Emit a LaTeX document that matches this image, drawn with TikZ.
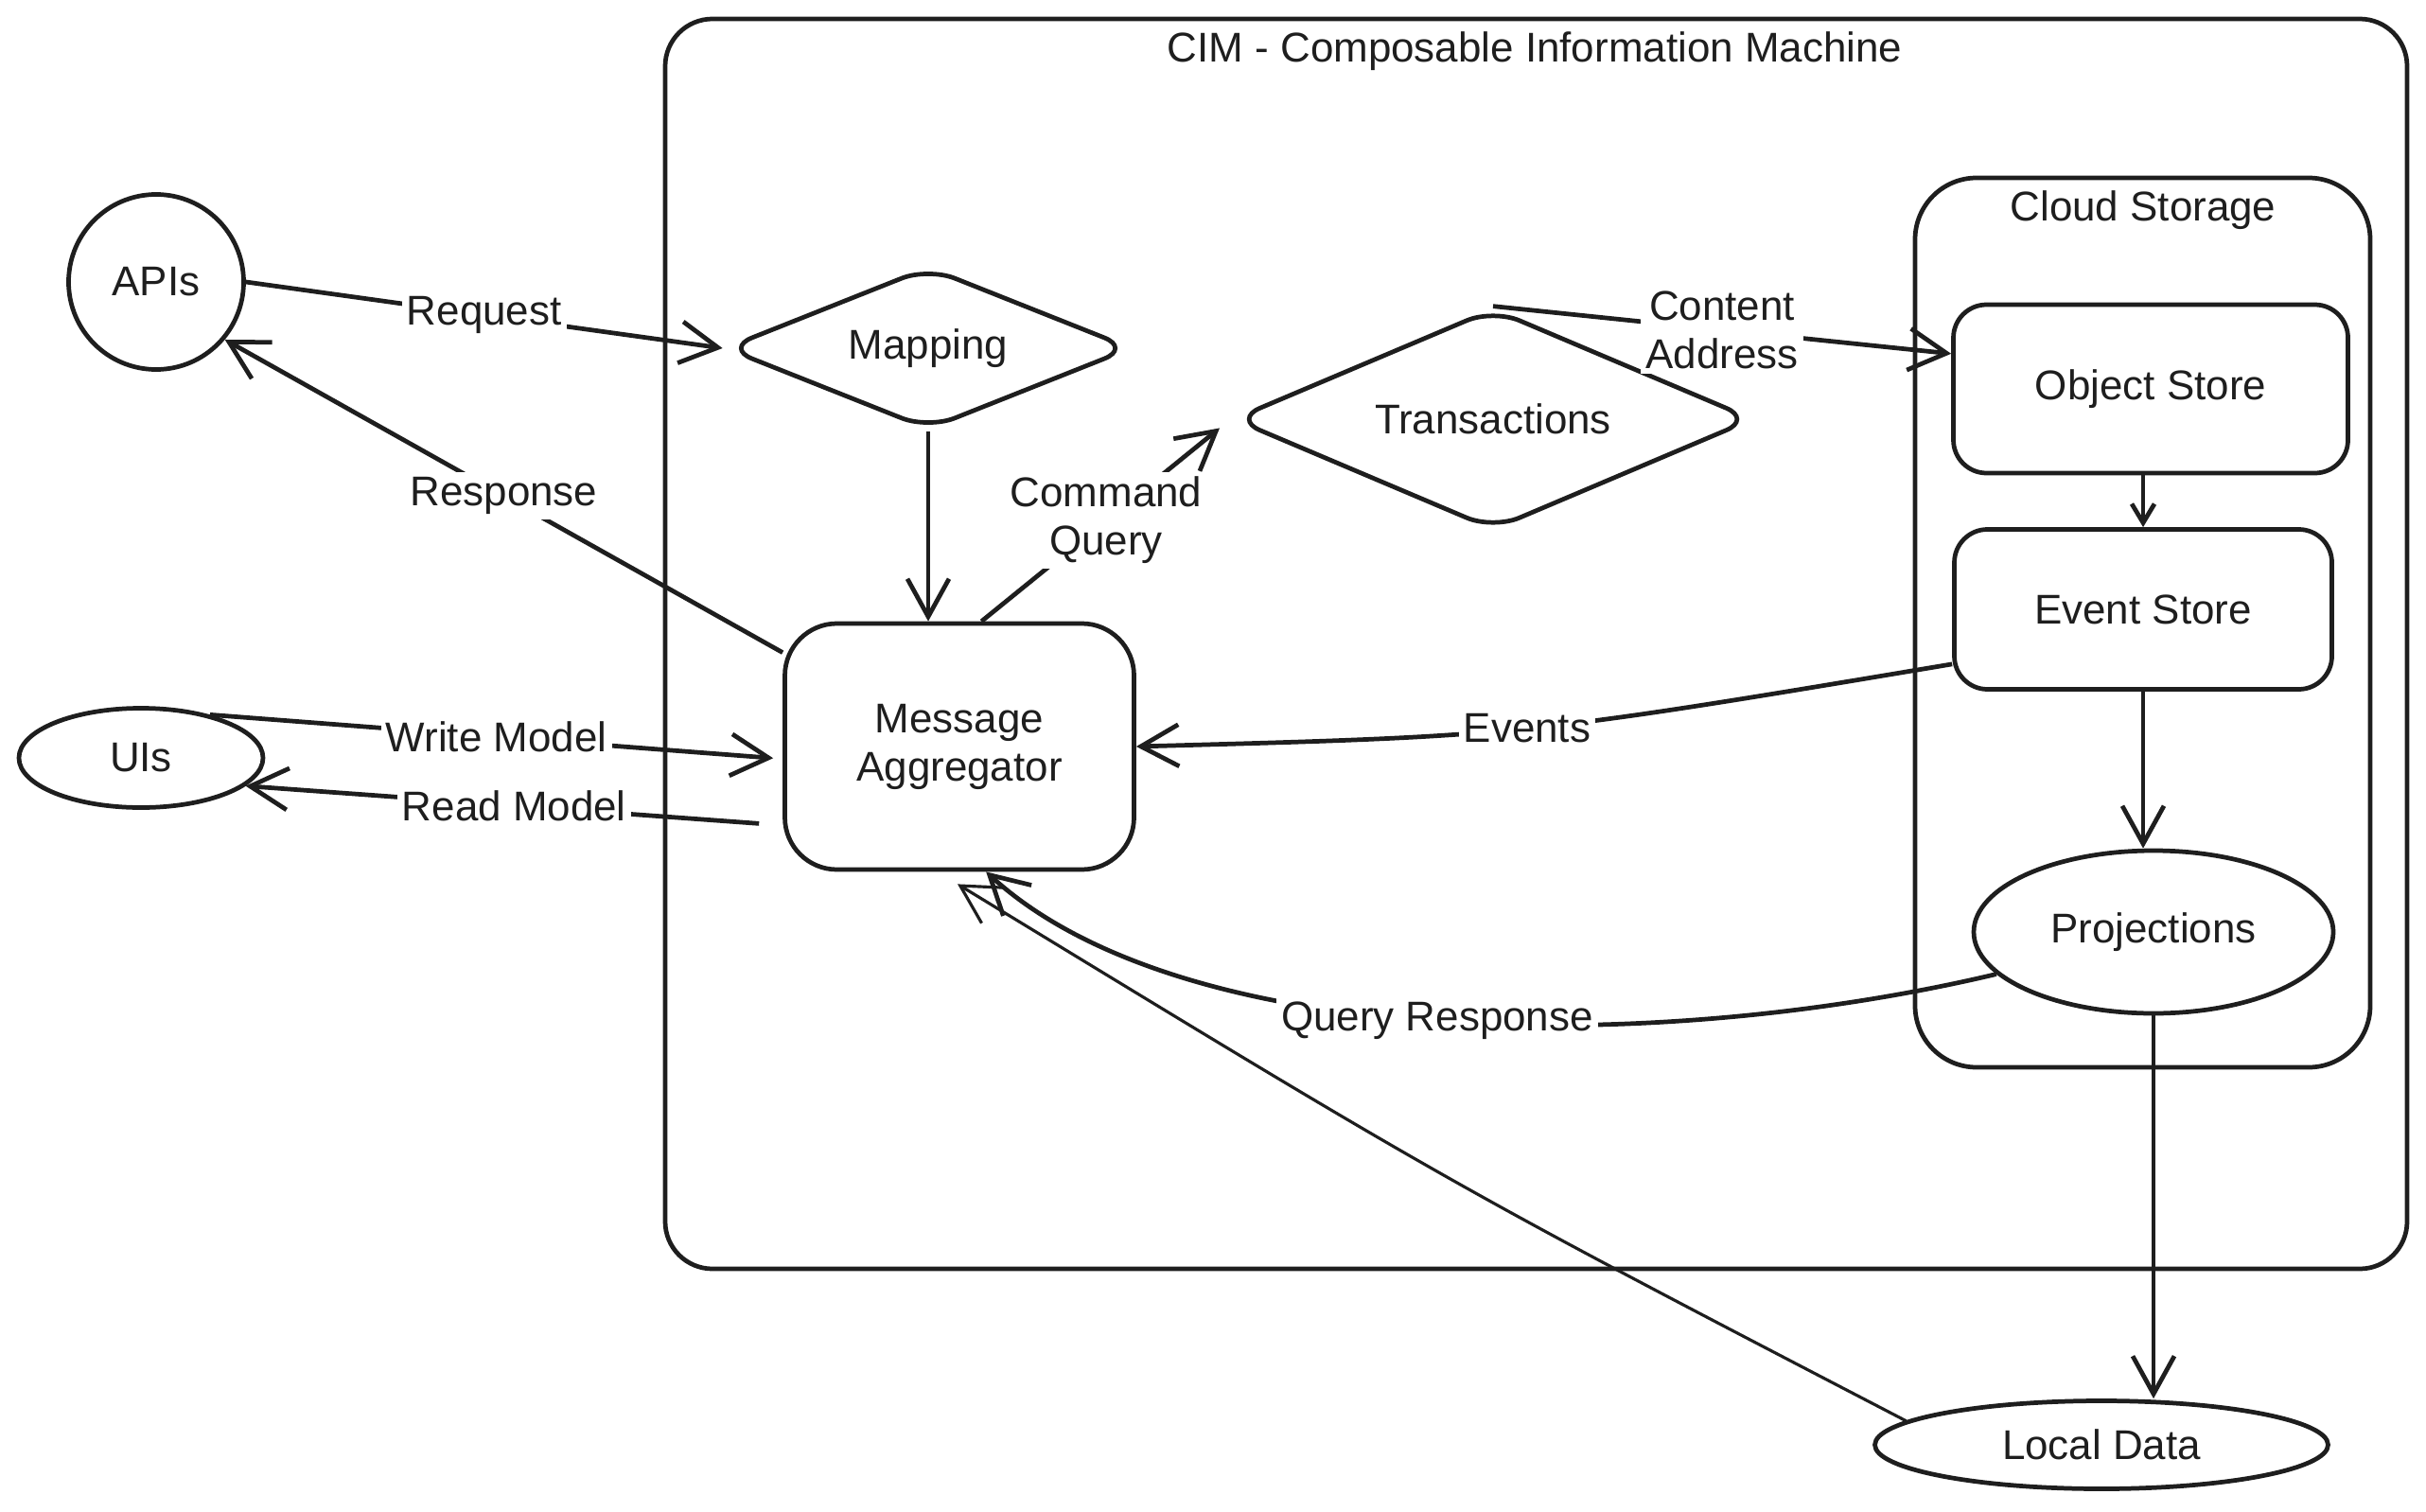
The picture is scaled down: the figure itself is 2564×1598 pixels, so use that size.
\documentclass[tikz,border=0pt]{standalone}
\usepackage{fontspec}
\setmainfont{Liberation Sans}
\usetikzlibrary{shapes.geometric,arrows.meta}
\definecolor{ink}{HTML}{1E1E1E}
\def\lineW{1.35pt}
\def\thinW{0.9pt}
\tikzset{
	sketch/.style={draw=ink, line width=\lineW},
	roundbox/.style={sketch, rectangle, rounded corners=#1, align=center, text=ink},
	ovalbox/.style={sketch, ellipse, inner sep=0pt, text=ink},
	rhombus/.style={sketch, diamond, aspect=2.5, rounded corners=3mm, inner sep=0pt, text=ink},
	flow/.style={draw=ink, line width=\lineW, ->},
	thinflow/.style={draw=ink, line width=\thinW, ->},
	tag/.style={fill=white, inner sep=1.5pt, text=ink, align=center},
}
\begin{document}
\begin{tikzpicture}[x=0.1mm, y=-0.1mm, >={Straight Barb[length=4mm, width=4.4mm]}, font=\fontsize{12.5}{14.5}\selectfont]

	\useasboundingbox (0,0) rectangle (2564,1598);

	%machine outline
	\draw[sketch, rounded corners=5mm] (703,20) rectangle (2544,1341);
	\node[text=ink] (cimTitle) at (1622,54) {CIM - Composable Information Machine};

	%cloud storage outline
	\draw[sketch, rounded corners=6.5mm] (2024,188) rectangle (2505,1128);
	\node[text=ink] (cloudTitle) at (2265,222) {Cloud Storage};

	%outside of the machine
	\node[ovalbox, minimum width=18.5mm, minimum height=18.5mm] (apis) at (165,298) {APIs};
	\node[ovalbox, minimum width=25.8mm, minimum height=10.5mm] (uis) at (149,801) {UIs};
	\node[ovalbox, minimum width=47.9mm, minimum height=9.3mm] (local) at (2221,1527) {Local Data};

	%machine parts
	\node[rhombus, minimum width=43mm, minimum height=17.2mm] (mapping) at (981,368) {Mapping};
	\node[rhombus, minimum width=55mm, minimum height=23.4mm] (trans) at (1578,443) {Transactions};
	\node[roundbox=5.5mm, minimum width=36.9mm, minimum height=26mm] (agg) at (1014,789) {Message\\Aggregator};

	%storage parts
	\node[roundbox=3.5mm, minimum width=41.7mm, minimum height=17.8mm] (objStore) at (2273,411) {Object Store};
	\node[roundbox=3.5mm, minimum width=39.9mm, minimum height=16.9mm] (evStore) at (2265,644) {Event Store};
	\node[ovalbox, minimum width=38mm, minimum height=17.2mm] (proj) at (2276,985) {Projections};

	%requests and responses
	\draw[flow] (apis.east) -- node[tag] {Request} (mapping.west);
	\draw[flow] (agg.152) -- node[tag] {Response} (apis.-40);
	\draw[flow] (mapping.south) -- (mapping.south |- agg.north);
	\draw[flow, shorten >=1.5mm] (agg.80) -- node[tag] {Command\\Query} (trans.west);
	\draw[flow] (trans.north) -- node[tag] {Content\\Address} (objStore.170);

	%storage flow
	\draw[flow, >={Straight Barb[length=2mm, width=2.4mm]}] (evStore.north |- objStore.south) -- (evStore.north);
	\draw[flow] (evStore.south) -- (evStore.south |- proj.north);
	\draw[flow] (proj.south) -- (proj.south |- local.north);
	\draw[flow] (evStore.196) .. controls (1608,778) .. (agg.east) node[tag, midway] {Events};
	\draw[flow] (proj.195) .. controls (1750,1115) and (1250,1112) .. (agg.-78) node[tag, midway] {Query Response};
	\draw[thinflow, shorten >=2.5mm] (local.173) .. controls (1530,1250) .. (agg.-100);

	%user interfaces
	\draw[flow, shorten >=1mm] (uis.32) -- node[tag] {Write Model} (agg.184);
	\draw[flow, shorten <=2.5mm] (agg.204) -- node[tag] {Read Model} (uis.-15);

\end{tikzpicture}
\end{document}
